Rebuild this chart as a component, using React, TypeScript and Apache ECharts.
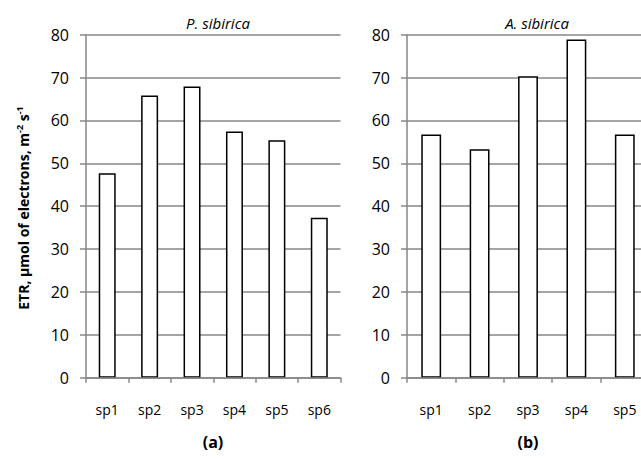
import React, { useEffect, useRef } from "react";
import * as echarts from "echarts";

const categoriesA = ["sp1", "sp2", "sp3", "sp4", "sp5", "sp6"];
const valuesA = [47.7, 65.8, 67.9, 57.4, 55.4, 37.3];
const categoriesB = ["sp1", "sp2", "sp3", "sp4", "sp5"];
const valuesB = [56.7, 53.3, 70.3, 78.9, 56.7];
const titleA = "P. sibirica";
const titleB = "A. sibirica";
const labelA = "(a)";
const labelB = "(b)";

const FONT = "Open Sans";
const GRAY = "#878787";

export default function App() {
  const ref = useRef<HTMLDivElement>(null);
  useEffect(() => {
    const chart = echarts.init(ref.current!, null, { renderer: "svg" });
    const yAxisCommon = {
      type: "value" as const,
      min: 0,
      max: 80,
      interval: 10,
      axisLine: { show: true, lineStyle: { color: GRAY, width: 1.5 } },
      axisTick: { show: true, length: 6, lineStyle: { color: GRAY, width: 1.5 } },
      splitLine: { show: true, lineStyle: { color: GRAY, width: 1.5 } },
      axisLabel: { color: "#000", fontFamily: FONT, fontSize: 16, margin: 17 },
    };
    const xAxisCommon = {
      type: "category" as const,
      z: 5,
      axisLine: { show: true, lineStyle: { color: GRAY, width: 1.5 } },
      axisTick: { show: true, length: 5, lineStyle: { color: GRAY, width: 1.5 } },
      axisLabel: { color: "#000", fontFamily: FONT, fontSize: 14, margin: 25, hideOverlap: false },
    };
    const barStyle = { color: "#fff", borderColor: "#000", borderWidth: 1.5 };
    chart.setOption({
      animation: false,
      backgroundColor: "#fff",
      title: [
        {
          text: titleA,
          left: 213,
          top: 10,
          textAlign: "center",
          textStyle: { fontFamily: FONT, fontStyle: "italic", fontWeight: "normal", fontSize: 15, color: "#000" },
        },
        {
          text: titleB,
          left: 532,
          top: 10,
          textAlign: "center",
          textStyle: { fontFamily: FONT, fontStyle: "italic", fontWeight: "normal", fontSize: 15, color: "#000" },
        },
      ],
      grid: [
        { left: 86, top: 34.7, width: 254.5, height: 343, outerBoundsMode: "none" },
        { left: 407, top: 34.7, width: 242, height: 343, outerBoundsMode: "none" },
      ],
      xAxis: [
        { ...xAxisCommon, gridIndex: 0, data: categoriesA },
        { ...xAxisCommon, gridIndex: 1, data: categoriesB },
      ],
      yAxis: [
        { ...yAxisCommon, gridIndex: 0 },
        { ...yAxisCommon, gridIndex: 1 },
      ],
      series: [
        { type: "bar", xAxisIndex: 0, yAxisIndex: 0, data: valuesA, barWidth: "40%", itemStyle: barStyle },
        { type: "bar", xAxisIndex: 1, yAxisIndex: 1, data: valuesB, barWidth: "41%", itemStyle: barStyle },
      ],
      graphic: [
        {
          type: "text",
          x: 213,
          y: 442,
          style: {
            text: labelA,
            font: `bold 16px "${FONT}"`,
            fill: "#000",
            align: "center",
            verticalAlign: "middle",
          },
        },
        {
          type: "text",
          x: 528,
          y: 442,
          style: {
            text: labelB,
            font: `bold 16px "${FONT}"`,
            fill: "#000",
            align: "center",
            verticalAlign: "middle",
          },
        },
        {
          type: "text",
          x: 23,
          y: 208,
          rotation: Math.PI / 2,
          style: {
            text: "{m|ETR, µmol of electrons, m}{s|-2}{m| s}{s|-1}",
            align: "center",
            verticalAlign: "middle",
            rich: {
              m: { fontFamily: FONT, fontWeight: "bold", fontSize: 14, color: "#000" },
              s: { fontFamily: FONT, fontWeight: "bold", fontSize: 9, color: "#000", padding: [0, 0, 8, 0] },
            },
          },
        },
      ],
    });
    return () => chart.dispose();
  }, []);
  return <div ref={ref} style={{ position: "absolute", left: 0, top: 0, width: 641, height: 459 }} />;
}
